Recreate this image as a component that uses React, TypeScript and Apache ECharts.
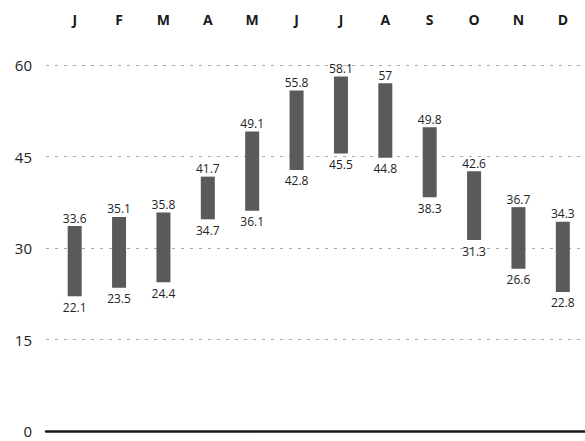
import React, { useEffect, useRef } from "react";
import * as echarts from "echarts";

const months = ["J", "F", "M", "A", "M", "J", "J", "A", "S", "O", "N", "D"];
const highs = [33.6, 35.1, 35.8, 41.7, 49.1, 55.8, 58.1, 57, 49.8, 42.6, 36.7, 34.3];
const lows = [22.1, 23.5, 24.4, 34.7, 36.1, 42.8, 45.5, 44.8, 38.3, 31.3, 26.6, 22.8];
const yTicks = [0, 15, 30, 45, 60];

const FONT = "'Open Sans', 'Noto Sans', sans-serif";

export default function App() {
  const ref = useRef<HTMLDivElement>(null);
  useEffect(() => {
    const chart = echarts.init(ref.current!, null, { renderer: "svg" });
    const ranges = highs.map((h, i) => +(h - lows[i]).toFixed(2));
    chart.setOption({
      animation: false,
      backgroundColor: "#fff",
      grid: [
        { left: 46, right: 0, top: 65, bottom: 10 },
        { left: 52.5, right: -7.5, top: 65, bottom: 10 },
      ],
      xAxis: [
        {
          type: "value",
          gridIndex: 0,
          min: 0,
          max: 1,
          position: "bottom",
          axisLine: { show: true, onZero: false, lineStyle: { color: "#1a1a1a", width: 2.5 } },
          axisTick: { show: false },
          axisLabel: { show: false },
          splitLine: { show: false },
        },
        {
          type: "category",
          gridIndex: 1,
          position: "top",
          data: months,
          axisLine: { show: false },
          axisTick: { show: false },
          axisLabel: {
            margin: 39,
            color: "#1a1a1a",
            fontWeight: "bold",
            fontSize: 14,
            fontFamily: FONT,
          },
        },
      ],
      yAxis: [
        {
          type: "value",
          gridIndex: 0,
          min: yTicks[0],
          max: yTicks[yTicks.length - 1],
          interval: 15,
          axisLine: { show: false },
          axisTick: { show: false },
          axisLabel: { color: "#222", fontSize: 15, margin: 14, fontFamily: FONT },
          splitLine: {
            show: true,
            lineStyle: { color: "#a8a8a8", type: [3, 6], width: 1 },
          },
        },
        {
          type: "value",
          gridIndex: 1,
          min: yTicks[0],
          max: yTicks[yTicks.length - 1],
          show: false,
          splitLine: { show: false },
        },
      ],
      series: [
        {
          type: "bar",
          xAxisIndex: 1,
          yAxisIndex: 1,
          stack: "r",
          barWidth: 14,
          data: lows,
          itemStyle: { color: "transparent" },
          label: {
            show: true,
            position: "insideTop",
            distance: 5,
            color: "#222",
            fontSize: 12,
            fontFamily: FONT,
            formatter: (p: any) => String(lows[p.dataIndex]),
          },
        },
        {
          type: "bar",
          xAxisIndex: 1,
          yAxisIndex: 1,
          stack: "r",
          barWidth: 14,
          data: ranges,
          itemStyle: { color: "#5a5a5a" },
          label: {
            show: true,
            position: "top",
            distance: 2,
            color: "#222",
            fontSize: 12,
            fontFamily: FONT,
            formatter: (p: any) => String(highs[p.dataIndex]),
          },
        },
      ],
    });
    return () => chart.dispose();
  }, []);
  return (
    <div
      ref={ref}
      style={{ position: "fixed", left: 0, top: 0, width: 585, height: 441 }}
    />
  );
}
